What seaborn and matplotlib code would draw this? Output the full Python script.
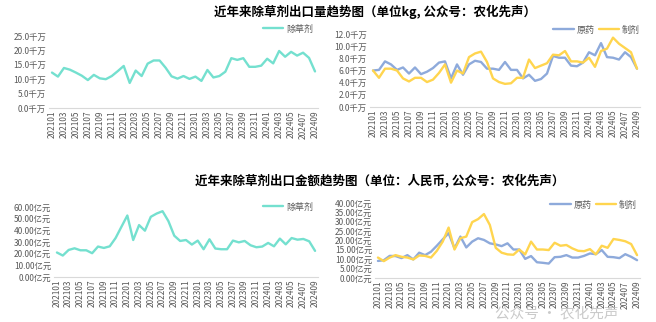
import matplotlib
matplotlib.use("Agg")
import matplotlib.pyplot as plt
import seaborn as sns
import pandas as pd
from matplotlib.ticker import FuncFormatter

sns.set_style("white")
plt.rcParams['font.family'] = ['Noto Sans CJK SC', 'DejaVu Sans']
plt.rcParams['axes.unicode_minus'] = False

# ---------------- data ----------------
months = [f"{y}{m:02d}" for y in (2021, 2022, 2023, 2024) for m in range(1, 13)][:45]

vol_total = [12.3, 10.9, 13.9, 13.3, 12.3, 11.2, 9.7, 11.5, 10.3, 10.0, 11.1, 12.8, 14.6, 8.7, 13.0,
             11.1, 15.4, 16.5, 16.5, 14.0, 11.0, 10.2, 11.1, 10.1, 10.9, 9.4, 13.2, 10.6, 11.1, 12.6,
             17.3, 16.7, 17.3, 14.3, 14.3, 14.7, 17.1, 15.5, 19.8, 17.8, 19.5, 18.2, 19.2, 17.4, 12.7]

vol_tech = [6.0, 6.1, 7.5, 7.0, 6.1, 6.5, 5.5, 6.5, 5.4, 5.8, 6.4, 7.3, 7.5, 4.7, 7.0,
            5.3, 7.0, 7.6, 7.4, 6.3, 6.3, 6.1, 7.4, 6.1, 6.1, 4.7, 5.3, 4.3, 4.6, 5.5,
            8.4, 8.1, 8.1, 6.8, 6.7, 7.3, 9.0, 8.5, 10.5, 8.2, 8.1, 7.8, 9.0, 8.2, 6.3]

vol_form = [6.0, 4.8, 6.3, 6.3, 6.0, 4.7, 4.2, 4.8, 4.8, 4.1, 4.5, 5.6, 7.0, 4.0, 6.0,
            5.5, 8.2, 8.8, 9.1, 7.4, 4.7, 4.1, 3.8, 3.9, 4.8, 4.8, 7.8, 6.4, 6.8, 7.2,
            8.6, 8.5, 9.2, 7.5, 7.5, 7.3, 8.1, 6.6, 9.2, 9.6, 11.4, 10.4, 9.7, 9.0, 6.3]

val_total = [21.0, 18.4, 23.2, 24.6, 22.9, 22.9, 20.4, 26.1, 24.9, 26.3, 33.4, 43.1, 52.7, 31.7, 44.5,
             39.7, 51.6, 54.4, 56.4, 47.9, 35.4, 30.9, 31.7, 27.8, 31.2, 23.8, 32.3, 24.4, 23.8, 23.8,
             31.2, 29.7, 30.9, 27.2, 25.5, 26.1, 29.2, 26.3, 32.9, 28.0, 33.4, 32.0, 32.6, 30.6, 22.4]

val_tech = [9.1, 9.5, 11.8, 11.7, 10.6, 12.2, 9.9, 13.5, 12.2, 14.0, 17.2, 20.6, 23.9, 15.8, 22.1,
            16.3, 19.4, 21.2, 20.3, 18.5, 17.9, 17.0, 18.5, 15.2, 15.2, 10.2, 11.7, 8.4, 8.1, 7.7,
            11.1, 11.3, 12.2, 10.9, 10.9, 11.8, 13.1, 12.7, 14.9, 11.3, 11.1, 10.6, 12.7, 11.3, 9.5]

val_form = [10.9, 9.0, 10.9, 12.2, 11.3, 10.9, 9.9, 12.0, 11.8, 10.9, 14.5, 19.4, 26.9, 15.2, 21.2,
            22.1, 29.8, 31.4, 34.1, 28.3, 16.1, 13.5, 12.6, 12.4, 15.2, 12.6, 19.4, 15.2, 15.2, 14.9,
            18.8, 17.2, 17.6, 15.8, 14.5, 14.3, 15.4, 12.6, 17.2, 16.1, 20.8, 20.3, 19.6, 18.1, 12.2]

title_vol = "近年来除草剂出口量趋势图（单位kg, 公众号：农化先声）"
title_val = "近年来除草剂出口金额趋势图（单位：人民币, 公众号：农化先声）"
name_total = "除草剂"
name_tech = "原药"
name_form = "制剂"

C_TEAL = "#74E0CF"
C_BLUE = "#8EAADB"
C_YEL = "#FFD54F"
C_TXT = "#595959"

# ---------------- figure ----------------
W, H = 656, 322
fig = plt.figure(figsize=(W / 100, H / 100), dpi=100)


def px_axes(x0, x1, ytop, ybot):
    return fig.add_axes([x0 / W, 1 - ybot / H, (x1 - x0) / W, (ybot - ytop) / H])


def draw(ax, series, palette, ymax, ystep, fmt, leg_xy, ncol):
    df = pd.DataFrame({"idx": list(range(len(months)))})
    for name, vals in series:
        df[name] = vals
    long = df.melt(id_vars="idx", var_name="系列", value_name="v")
    sns.lineplot(data=long, x="idx", y="v", hue="系列", palette=palette, ax=ax,
                 linewidth=1.7, legend=True)
    ax.set_xlim(-0.5, len(months) - 0.5)
    ax.set_ylim(0, ymax)
    ax.set_yticks([i * ystep for i in range(int(round(ymax / ystep)) + 1)])
    ax.yaxis.set_major_formatter(FuncFormatter(lambda v, p: fmt.format(v)))
    ticks = list(range(0, len(months), 2))
    ax.set_xticks(ticks)
    ax.set_xticklabels([months[i] for i in ticks], rotation=90)
    ax.tick_params(axis="both", labelsize=6, colors=C_TXT, length=0, pad=2)
    ax.set_xlabel("")
    ax.set_ylabel("")
    for s in ("top", "right", "left"):
        ax.spines[s].set_visible(False)
    ax.spines["bottom"].set_color("#D9D9D9")
    ax.spines["bottom"].set_linewidth(0.8)
    ax.grid(False)
    h, l = ax.get_legend_handles_labels()
    ax.legend(h, l, loc="center right", bbox_to_anchor=(leg_xy[0] / W, 1 - leg_xy[1] / H),
              bbox_transform=fig.transFigure, frameon=False, ncol=ncol, fontsize=6.5,
              handlelength=2.3, handletextpad=0.3, columnspacing=0.4, labelcolor=C_TXT,
              borderpad=0, borderaxespad=0)


ax1 = px_axes(49, 318, 36, 108)
draw(ax1, [(name_total, vol_total)], [C_TEAL], 25, 5, "{:.1f}千万", (313, 29), 1)

ax2 = px_axes(370, 640, 34, 107)
draw(ax2, [(name_tech, vol_tech), (name_form, vol_form)], [C_BLUE, C_YEL], 12, 2,
     "{:.1f}千万", (640, 30), 2)

ax3 = px_axes(54, 318, 207, 277)
draw(ax3, [(name_total, val_total)], [C_TEAL], 60, 10, "{:.2f}亿元", (313, 207), 1)

ax4 = px_axes(375, 640, 203, 278)
draw(ax4, [(name_tech, val_tech), (name_form, val_form)], [C_BLUE, C_YEL], 40, 5,
     "{:.2f}亿元", (637, 205), 2)

fig.text(375 / W, 1 - 12 / H, title_vol, ha="center", va="center", fontsize=9,
         fontweight="bold", color="#000000")
fig.text(380 / W, 1 - 180 / H, title_val, ha="center", va="center", fontsize=9,
         fontweight="bold", color="#000000")

# watermark
fig.text(557 / W, 1 - 313.5 / H, "公众号 · 农化先声", ha="center", va="center", fontsize=10.5,
         color="#BDBDBD", alpha=0.8)

fig.savefig("out.png", dpi=100)
